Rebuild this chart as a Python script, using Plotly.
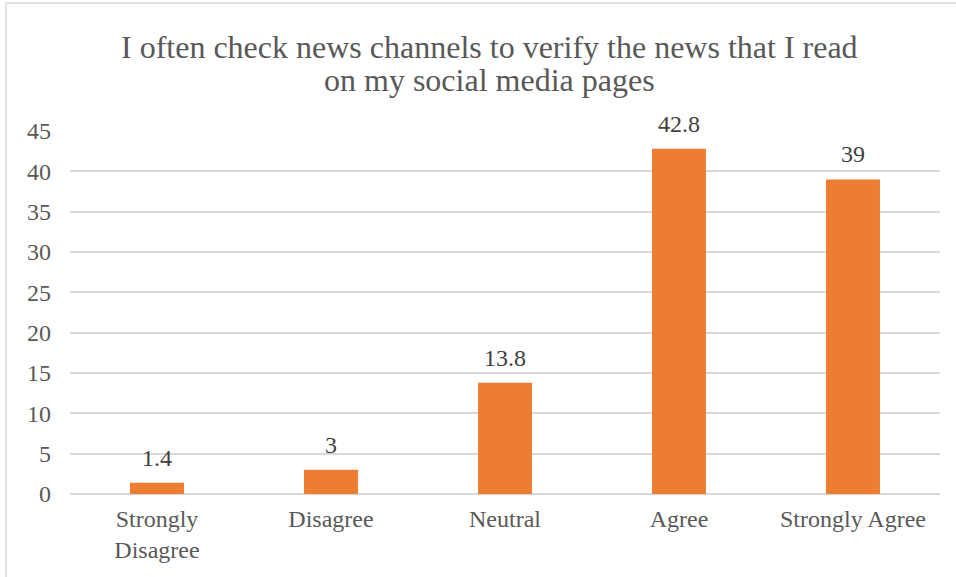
import plotly.graph_objects as go

categories = ["Strongly<br>Disagree", "Disagree", "Neutral", "Agree", "Strongly Agree"]
values = [1.4, 3, 13.8, 42.8, 39]
value_labels = ["1.4", "3", "13.8", "42.8", "39"]
y_ticks = [0, 5, 10, 15, 20, 25, 30, 35, 40, 45]

title_lines = [
    "I often check news channels to verify the news that I read",
    "on my social media pages",
]

serif = "Liberation Serif, Times New Roman, serif"
W, H = 956, 577
ml, mr, mt, mb = 70, 16, 131, 83
pw, ph = W - ml - mr, H - mt - mb


def paper_y(py):
    # convert a pixel row (from the top of the page) into paper units
    return ((H - mb) - py) / ph


def paper_x(px):
    # convert a pixel column into paper units
    return (px - ml) / pw


fig = go.Figure(
    go.Bar(
        x=categories,
        y=values,
        marker=dict(color="#ED7D31", line=dict(width=0)),
        width=0.31,
        hoverinfo="x+y",
    )
)

# value labels above each bar
for cat, val, lab in zip(categories, values, value_labels):
    fig.add_annotation(
        x=cat, y=val, xref="x", yref="y",
        text=lab, showarrow=False,
        yanchor="middle", yshift=25,
        font=dict(family=serif, size=24, color="#404040"),
    )

# two-line chart title, centred on the chart frame
for py, line in zip([47, 80], title_lines):
    fig.add_annotation(
        x=paper_x(489), y=paper_y(py), xref="paper", yref="paper",
        xanchor="center", yanchor="middle",
        text=line, showarrow=False,
        font=dict(family=serif, size=32, color="#595959"),
    )

# outer frame of the chart area
fig.add_shape(
    type="rect", xref="paper", yref="paper",
    x0=paper_x(6), x1=paper_x(W + 5),
    y0=paper_y(H + 5), y1=paper_y(3),
    line=dict(color="#D9D9D9", width=1.5), fillcolor="rgba(0,0,0,0)",
    layer="below",
)

fig.update_layout(
    width=W, height=H,
    margin=dict(l=ml, r=mr, t=mt, b=mb),
    paper_bgcolor="white",
    plot_bgcolor="white",
    showlegend=False,
    xaxis=dict(
        showgrid=False, showline=False, ticks="",
        tickfont=dict(family=serif, size=24, color="#595959"),
        ticklabelstandoff=8,
    ),
    yaxis=dict(
        range=[0, 45],
        tickvals=y_ticks,
        showgrid=True, gridcolor="#D9D9D9", gridwidth=1.5,
        zeroline=True, zerolinecolor="#D9D9D9", zerolinewidth=1.5,
        showline=False, ticks="",
        tickfont=dict(family=serif, size=24, color="#595959"),
        ticklabelstandoff=18,
    ),
)

fig.write_html("out.html")
